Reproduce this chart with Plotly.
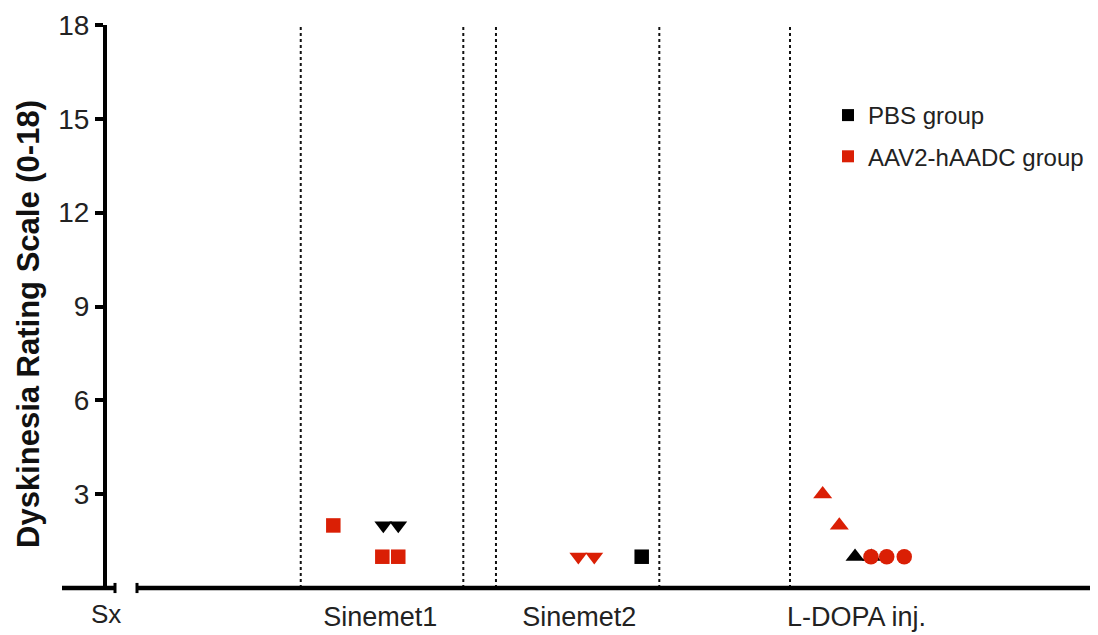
import plotly.graph_objects as go

# ---- data ----
categories = ["Sinemet1", "Sinemet2", "L-DOPA inj."]
category_pos = [27.6, 47.7, 75.7]
divider_pos = [19.57, 35.99, 39.29, 55.79, 68.99]

pbs_x = [27.91, 29.42, 54.01, 75.56, 77.22]
pbs_y = [2, 2, 1, 1, 1]
pbs_sym = ["triangle-down", "triangle-down", "square", "triangle-up", "triangle-up"]

aav_x = [22.86, 27.81, 29.42, 47.61, 49.22, 72.29, 73.97, 77.17, 78.76, 80.53]
aav_y = [2, 1, 1, 1, 1, 3, 2, 1, 1, 1]
aav_sym = ["square", "square", "square", "triangle-down", "triangle-down",
           "triangle-up", "triangle-up", "circle", "circle", "circle"]

y_ticks = [3, 6, 9, 12, 15, 18]

BLACK = "#000000"
RED = "#DA1F05"

size_map = {"square": 14.5, "triangle-down": 15.5, "triangle-up": 16.5, "circle": 15.5}

fig = go.Figure()

for xs, ys, syms, col in [(pbs_x, pbs_y, pbs_sym, BLACK), (aav_x, aav_y, aav_sym, RED)]:
    fig.add_trace(go.Scatter(
        x=xs, y=ys, mode="markers", showlegend=False,
        marker=dict(symbol=syms, color=col, opacity=1,
                    size=[size_map[s] for s in syms], line=dict(width=0)),
        cliponaxis=False,
    ))

# legend entries
for name, col, grp in [("PBS group", BLACK, "a"), ("AAV2-hAADC group", RED, "b")]:
    fig.add_trace(go.Scatter(
        x=[None], y=[None], mode="markers", name=name, legendgroup=grp,
        marker=dict(symbol="square", color=col, size=12),
    ))

shapes = []
for d in divider_pos:
    shapes.append(dict(type="line", xref="x", yref="paper", x0=d, x1=d, y0=0, y1=1,
                       line=dict(color="#111", width=2, dash="dot")))

# broken x axis (page pixel -> paper coordinate helper)
PX0, PW = 107, 990
PY0, PH = 588, 563
def px(p):
    return (p - PX0) / PW
def py(p):
    return (PY0 - p) / PH

shapes += [
    dict(type="line", xref="paper", yref="paper", x0=px(62), x1=px(115), y0=0, y1=0,
         line=dict(color="black", width=4.5)),
    dict(type="line", xref="paper", yref="paper", x0=px(115), x1=px(115), y0=-0.009, y1=0.009,
         line=dict(color="black", width=3)),
    dict(type="line", xref="paper", yref="paper", x0=px(137), x1=px(1097), y0=0, y1=0,
         line=dict(color="black", width=4.5)),
    dict(type="line", xref="paper", yref="paper", x0=px(137), x1=px(137), y0=-0.009, y1=0.009,
         line=dict(color="black", width=3)),
]

fig.update_layout(
    width=1090, height=627,
    margin=dict(l=99, r=1, t=17, b=47),
    paper_bgcolor="white", plot_bgcolor="white",
    font=dict(family="Liberation Sans, Arial, sans-serif", color="#222"),
    shapes=shapes,
    showlegend=True,
    legend=dict(x=px(828), y=py(93), xanchor="left", yanchor="top",
                font=dict(size=24, color="#222"), tracegroupgap=7,
                traceorder="grouped", bgcolor="rgba(0,0,0,0)"),
    xaxis=dict(range=[0, 100], showgrid=False, zeroline=False, showline=False,
               tickmode="array", tickvals=category_pos, ticktext=categories,
               ticks="", ticklabelstandoff=10, tickfont=dict(size=27, color="#222")),
    yaxis=dict(range=[0, 18], showgrid=False, zeroline=False, showline=True,
               linecolor="black", linewidth=4, ticks="outside", ticklen=8,
               tickwidth=3.5, tickcolor="black", tickvals=y_ticks,
               tickfont=dict(size=28, color="#222")),
    annotations=[
        dict(text="Sx", xref="paper", yref="paper", x=px(106), y=0,
             yshift=-26, xanchor="center", yanchor="middle", showarrow=False,
             font=dict(size=26, color="#222")),
        dict(text="<b>Dyskinesia Rating Scale (0-18)</b>", xref="paper", yref="paper",
             x=px(28), y=py(324), xanchor="center", yanchor="middle", textangle=-90,
             showarrow=False, font=dict(size=31, color="#111")),
    ],
)

fig.write_html("out.html")
